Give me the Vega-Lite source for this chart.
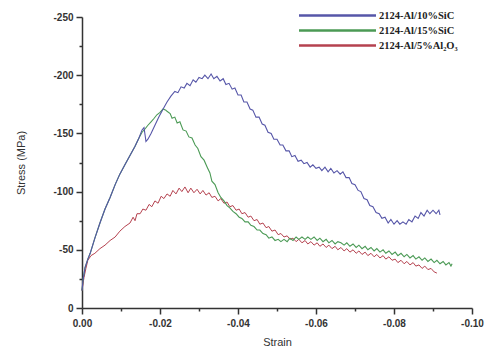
{
  "$schema": "https://vega.github.io/schema/vega-lite/v6.json",
  "autosize": "none",
  "padding": {"left": 82, "top": 17, "right": 16, "bottom": 45},
  "width": 390,
  "height": 291,
  "background": "white",
  "config": {"view": {"stroke": null}},
  "datasets": {
    "sic10": [
      {"strain":0,"stress":-15},{"strain":-0.0003,"stress":-25},{"strain":-0.0008,"stress":-35},{"strain":-0.0015,"stress":-42},{"strain":-0.0021,"stress":-47},{"strain":-0.0033,"stress":-60},{"strain":-0.0046,"stress":-73},{"strain":-0.0059,"stress":-85},{"strain":-0.0072,"stress":-95},{"strain":-0.0085,"stress":-106},{"strain":-0.0097,"stress":-115},{"strain":-0.011,"stress":-123},{"strain":-0.0123,"stress":-131},{"strain":-0.0136,"stress":-139},{"strain":-0.0146,"stress":-146},{"strain":-0.0154,"stress":-153},{"strain":-0.0159,"stress":-155},{"strain":-0.0162,"stress":-148},{"strain":-0.0164,"stress":-143},{"strain":-0.0169,"stress":-145},{"strain":-0.0177,"stress":-150},{"strain":-0.0187,"stress":-157},{"strain":-0.0197,"stress":-164},{"strain":-0.0208,"stress":-171},{"strain":-0.0218,"stress":-177},{"strain":-0.0228,"stress":-182},{"strain":-0.0238,"stress":-186},{"strain":-0.0246,"stress":-185},{"strain":-0.0254,"stress":-190},{"strain":-0.0262,"stress":-189},{"strain":-0.0269,"stress":-193},{"strain":-0.0277,"stress":-191},{"strain":-0.0285,"stress":-196},{"strain":-0.0292,"stress":-194},{"strain":-0.03,"stress":-198},{"strain":-0.0308,"stress":-197},{"strain":-0.0315,"stress":-200},{"strain":-0.0323,"stress":-197},{"strain":-0.0331,"stress":-201},{"strain":-0.0338,"stress":-197},{"strain":-0.0346,"stress":-199},{"strain":-0.0354,"stress":-195},{"strain":-0.0362,"stress":-197},{"strain":-0.0369,"stress":-192},{"strain":-0.0377,"stress":-193},{"strain":-0.0385,"stress":-188},{"strain":-0.0392,"stress":-189},{"strain":-0.04,"stress":-183},{"strain":-0.0408,"stress":-183},{"strain":-0.0415,"stress":-177},{"strain":-0.0423,"stress":-177},{"strain":-0.0431,"stress":-171},{"strain":-0.0438,"stress":-170},{"strain":-0.0446,"stress":-164},{"strain":-0.0454,"stress":-164},{"strain":-0.0462,"stress":-158},{"strain":-0.0469,"stress":-157},{"strain":-0.0477,"stress":-151},{"strain":-0.0485,"stress":-150},{"strain":-0.0492,"stress":-145},{"strain":-0.05,"stress":-145},{"strain":-0.0508,"stress":-140},{"strain":-0.0515,"stress":-140},{"strain":-0.0523,"stress":-135},{"strain":-0.0531,"stress":-135},{"strain":-0.0538,"stress":-130},{"strain":-0.0546,"stress":-131},{"strain":-0.0554,"stress":-126},{"strain":-0.0562,"stress":-127},{"strain":-0.0569,"stress":-124},{"strain":-0.0577,"stress":-125},{"strain":-0.0585,"stress":-121},{"strain":-0.0592,"stress":-123},{"strain":-0.06,"stress":-120},{"strain":-0.0608,"stress":-121},{"strain":-0.0615,"stress":-118},{"strain":-0.0623,"stress":-121},{"strain":-0.0631,"stress":-117},{"strain":-0.0638,"stress":-120},{"strain":-0.0646,"stress":-116},{"strain":-0.0654,"stress":-118},{"strain":-0.0662,"stress":-115},{"strain":-0.0669,"stress":-117},{"strain":-0.0677,"stress":-112},{"strain":-0.0685,"stress":-112},{"strain":-0.0692,"stress":-107},{"strain":-0.07,"stress":-106},{"strain":-0.0708,"stress":-101},{"strain":-0.0715,"stress":-100},{"strain":-0.0723,"stress":-94},{"strain":-0.0731,"stress":-93},{"strain":-0.0738,"stress":-88},{"strain":-0.0746,"stress":-87},{"strain":-0.0754,"stress":-82},{"strain":-0.0762,"stress":-81},{"strain":-0.0769,"stress":-77},{"strain":-0.0777,"stress":-78},{"strain":-0.0785,"stress":-73},{"strain":-0.0792,"stress":-76},{"strain":-0.08,"stress":-72},{"strain":-0.0808,"stress":-75},{"strain":-0.0815,"stress":-72},{"strain":-0.0823,"stress":-74},{"strain":-0.0831,"stress":-72},{"strain":-0.0838,"stress":-76},{"strain":-0.0846,"stress":-74},{"strain":-0.0854,"stress":-79},{"strain":-0.0862,"stress":-77},{"strain":-0.0869,"stress":-82},{"strain":-0.0877,"stress":-79},{"strain":-0.0885,"stress":-84},{"strain":-0.0892,"stress":-81},{"strain":-0.09,"stress":-84},{"strain":-0.0908,"stress":-81},{"strain":-0.0915,"stress":-84},{"strain":-0.0918,"stress":-80}
    ],
    "sic15": [
      {"strain":0,"stress":-15},{"strain":-0.0003,"stress":-25},{"strain":-0.0008,"stress":-35},{"strain":-0.0015,"stress":-42},{"strain":-0.0021,"stress":-47},{"strain":-0.0033,"stress":-60},{"strain":-0.0046,"stress":-73},{"strain":-0.0059,"stress":-85},{"strain":-0.0072,"stress":-95},{"strain":-0.0085,"stress":-106},{"strain":-0.0097,"stress":-115},{"strain":-0.011,"stress":-123},{"strain":-0.0123,"stress":-131},{"strain":-0.0136,"stress":-139},{"strain":-0.0146,"stress":-146},{"strain":-0.0154,"stress":-151},{"strain":-0.0162,"stress":-154},{"strain":-0.0169,"stress":-157},{"strain":-0.0177,"stress":-160},{"strain":-0.0185,"stress":-163},{"strain":-0.0192,"stress":-166},{"strain":-0.02,"stress":-168},{"strain":-0.0208,"stress":-171},{"strain":-0.0215,"stress":-170},{"strain":-0.0218,"stress":-169},{"strain":-0.0226,"stress":-167},{"strain":-0.0231,"stress":-163},{"strain":-0.0238,"stress":-164},{"strain":-0.0244,"stress":-159},{"strain":-0.0251,"stress":-160},{"strain":-0.0259,"stress":-153},{"strain":-0.0267,"stress":-152},{"strain":-0.0274,"stress":-147},{"strain":-0.0282,"stress":-146},{"strain":-0.029,"stress":-140},{"strain":-0.0297,"stress":-137},{"strain":-0.0305,"stress":-130},{"strain":-0.0313,"stress":-127},{"strain":-0.0321,"stress":-121},{"strain":-0.0328,"stress":-116},{"strain":-0.0333,"stress":-109},{"strain":-0.0341,"stress":-106},{"strain":-0.0349,"stress":-99},{"strain":-0.0356,"stress":-95},{"strain":-0.0364,"stress":-92},{"strain":-0.0372,"stress":-88},{"strain":-0.0379,"stress":-86},{"strain":-0.0387,"stress":-83},{"strain":-0.0395,"stress":-81},{"strain":-0.0403,"stress":-78},{"strain":-0.041,"stress":-77},{"strain":-0.0418,"stress":-74},{"strain":-0.0426,"stress":-74},{"strain":-0.0433,"stress":-71},{"strain":-0.0441,"stress":-70},{"strain":-0.0449,"stress":-67},{"strain":-0.0456,"stress":-67},{"strain":-0.0464,"stress":-64},{"strain":-0.0472,"stress":-63},{"strain":-0.0479,"stress":-60},{"strain":-0.0487,"stress":-61},{"strain":-0.0495,"stress":-58},{"strain":-0.0503,"stress":-59},{"strain":-0.051,"stress":-57},{"strain":-0.0518,"stress":-59},{"strain":-0.0526,"stress":-57},{"strain":-0.0533,"stress":-60},{"strain":-0.0541,"stress":-58},{"strain":-0.0549,"stress":-61},{"strain":-0.0556,"stress":-59},{"strain":-0.0564,"stress":-61},{"strain":-0.0572,"stress":-59},{"strain":-0.0579,"stress":-61},{"strain":-0.0587,"stress":-59},{"strain":-0.0595,"stress":-61},{"strain":-0.0603,"stress":-58},{"strain":-0.061,"stress":-60},{"strain":-0.0618,"stress":-57},{"strain":-0.0626,"stress":-59},{"strain":-0.0633,"stress":-56},{"strain":-0.0641,"stress":-58},{"strain":-0.0649,"stress":-55},{"strain":-0.0656,"stress":-57},{"strain":-0.0664,"stress":-56},{"strain":-0.0672,"stress":-54},{"strain":-0.0679,"stress":-56},{"strain":-0.0687,"stress":-53},{"strain":-0.0695,"stress":-55},{"strain":-0.0703,"stress":-52},{"strain":-0.071,"stress":-54},{"strain":-0.0718,"stress":-51},{"strain":-0.0726,"stress":-53},{"strain":-0.0733,"stress":-50},{"strain":-0.0741,"stress":-52},{"strain":-0.0749,"stress":-49},{"strain":-0.0756,"stress":-51},{"strain":-0.0764,"stress":-48},{"strain":-0.0772,"stress":-50},{"strain":-0.0779,"stress":-47},{"strain":-0.0787,"stress":-49},{"strain":-0.0795,"stress":-46},{"strain":-0.0803,"stress":-48},{"strain":-0.081,"stress":-45},{"strain":-0.0818,"stress":-47},{"strain":-0.0826,"stress":-44},{"strain":-0.0833,"stress":-46},{"strain":-0.0841,"stress":-43},{"strain":-0.0849,"stress":-45},{"strain":-0.0856,"stress":-42},{"strain":-0.0864,"stress":-44},{"strain":-0.0872,"stress":-41},{"strain":-0.0879,"stress":-43},{"strain":-0.0887,"stress":-40},{"strain":-0.0895,"stress":-42},{"strain":-0.0903,"stress":-39},{"strain":-0.091,"stress":-41},{"strain":-0.0918,"stress":-38},{"strain":-0.0926,"stress":-40},{"strain":-0.0933,"stress":-37},{"strain":-0.0941,"stress":-39},{"strain":-0.0946,"stress":-36},{"strain":-0.0949,"stress":-38}
    ],
    "al2o3": [
      {"strain":0,"stress":-15},{"strain":-0.0005,"stress":-26},{"strain":-0.001,"stress":-34},{"strain":-0.0015,"stress":-41},{"strain":-0.0023,"stress":-45},{"strain":-0.0033,"stress":-47},{"strain":-0.0046,"stress":-51},{"strain":-0.0059,"stress":-54},{"strain":-0.0072,"stress":-58},{"strain":-0.0085,"stress":-61},{"strain":-0.0097,"stress":-66},{"strain":-0.011,"stress":-70},{"strain":-0.0123,"stress":-73},{"strain":-0.0131,"stress":-78},{"strain":-0.0136,"stress":-75},{"strain":-0.0141,"stress":-81},{"strain":-0.0149,"stress":-81},{"strain":-0.0156,"stress":-85},{"strain":-0.0164,"stress":-84},{"strain":-0.0172,"stress":-89},{"strain":-0.0179,"stress":-87},{"strain":-0.0187,"stress":-92},{"strain":-0.0195,"stress":-90},{"strain":-0.0203,"stress":-96},{"strain":-0.021,"stress":-94},{"strain":-0.0218,"stress":-98},{"strain":-0.0226,"stress":-96},{"strain":-0.0233,"stress":-101},{"strain":-0.0241,"stress":-98},{"strain":-0.0249,"stress":-103},{"strain":-0.0256,"stress":-100},{"strain":-0.0264,"stress":-104},{"strain":-0.0272,"stress":-99},{"strain":-0.0279,"stress":-103},{"strain":-0.0287,"stress":-99},{"strain":-0.0295,"stress":-102},{"strain":-0.0303,"stress":-98},{"strain":-0.031,"stress":-101},{"strain":-0.0318,"stress":-97},{"strain":-0.0326,"stress":-99},{"strain":-0.0333,"stress":-95},{"strain":-0.0341,"stress":-96},{"strain":-0.0349,"stress":-92},{"strain":-0.0356,"stress":-94},{"strain":-0.0364,"stress":-90},{"strain":-0.0372,"stress":-91},{"strain":-0.0379,"stress":-87},{"strain":-0.0387,"stress":-88},{"strain":-0.0395,"stress":-84},{"strain":-0.0403,"stress":-85},{"strain":-0.041,"stress":-81},{"strain":-0.0418,"stress":-82},{"strain":-0.0426,"stress":-78},{"strain":-0.0433,"stress":-79},{"strain":-0.0441,"stress":-75},{"strain":-0.0449,"stress":-76},{"strain":-0.0456,"stress":-72},{"strain":-0.0464,"stress":-73},{"strain":-0.0472,"stress":-69},{"strain":-0.0479,"stress":-70},{"strain":-0.0487,"stress":-66},{"strain":-0.0495,"stress":-67},{"strain":-0.0503,"stress":-63},{"strain":-0.051,"stress":-64},{"strain":-0.0518,"stress":-61},{"strain":-0.0526,"stress":-62},{"strain":-0.0533,"stress":-59},{"strain":-0.0541,"stress":-60},{"strain":-0.0549,"stress":-57},{"strain":-0.0556,"stress":-59},{"strain":-0.0564,"stress":-56},{"strain":-0.0572,"stress":-58},{"strain":-0.0579,"stress":-55},{"strain":-0.0587,"stress":-57},{"strain":-0.0595,"stress":-54},{"strain":-0.0603,"stress":-56},{"strain":-0.061,"stress":-53},{"strain":-0.0618,"stress":-55},{"strain":-0.0626,"stress":-52},{"strain":-0.0633,"stress":-54},{"strain":-0.0641,"stress":-51},{"strain":-0.0649,"stress":-53},{"strain":-0.0656,"stress":-50},{"strain":-0.0664,"stress":-52},{"strain":-0.0672,"stress":-49},{"strain":-0.0679,"stress":-51},{"strain":-0.0687,"stress":-48},{"strain":-0.0695,"stress":-50},{"strain":-0.0703,"stress":-47},{"strain":-0.071,"stress":-49},{"strain":-0.0718,"stress":-46},{"strain":-0.0726,"stress":-48},{"strain":-0.0733,"stress":-45},{"strain":-0.0741,"stress":-47},{"strain":-0.0749,"stress":-44},{"strain":-0.0756,"stress":-46},{"strain":-0.0764,"stress":-43},{"strain":-0.0772,"stress":-45},{"strain":-0.0779,"stress":-42},{"strain":-0.0787,"stress":-44},{"strain":-0.0795,"stress":-41},{"strain":-0.0803,"stress":-42},{"strain":-0.081,"stress":-39},{"strain":-0.0818,"stress":-41},{"strain":-0.0826,"stress":-38},{"strain":-0.0833,"stress":-40},{"strain":-0.0841,"stress":-37},{"strain":-0.0849,"stress":-39},{"strain":-0.0856,"stress":-36},{"strain":-0.0864,"stress":-37},{"strain":-0.0872,"stress":-34},{"strain":-0.0879,"stress":-36},{"strain":-0.0887,"stress":-33},{"strain":-0.0895,"stress":-34},{"strain":-0.0903,"stress":-31},{"strain":-0.091,"stress":-30}
    ]
  },
  "encoding": {
    "x": {
      "field": "strain", "type": "quantitative",
      "scale": {"domain": [0, -0.1], "nice": false, "zero": false},
      "axis": {
        "title": "Strain",
        "values": [0, -0.01, -0.02, -0.03, -0.04, -0.05, -0.06, -0.07, -0.08, -0.09, -0.1],
        "labelExpr": "round(abs(datum.value)*100) % 2 == 1 ? '' : replace(format(datum.value, '.2f'), '\u2212', '-')",
        "labelFlush": false,
        "labelOverlap": false,
        "grid": false,
        "domainColor": "#333", "domainWidth": 1.5,
        "tickColor": "#333", "tickWidth": 1.5,
        "tickSize": {"condition": {"test": "round(abs(datum.value)*100) % 2 == 1", "value": 3}, "value": 6},
        "labelFont": "Liberation Sans", "labelFontSize": 10, "labelColor": "#333", "labelFontWeight": "bold", "labelPadding": 4,
        "titleFont": "Liberation Sans", "titleFontSize": 11, "titleFontWeight": "normal", "titleColor": "#333", "titlePadding": 8
      }
    },
    "y": {
      "field": "stress", "type": "quantitative",
      "scale": {"domain": [0, -250], "nice": false, "zero": false},
      "axis": {
        "title": "Stress (MPa)",
        "values": [0, -25, -50, -75, -100, -125, -150, -175, -200, -225, -250],
        "labelExpr": "datum.value % 50 == 0 ? replace(format(datum.value, 'd'), '\u2212', '-') : ''",
        "labelFlush": false,
        "labelOverlap": false,
        "grid": false,
        "domainColor": "#333", "domainWidth": 1.5,
        "tickColor": "#333", "tickWidth": 1.5,
        "tickSize": {"condition": {"test": "datum.value % 50 != 0", "value": 3}, "value": 6},
        "labelFont": "Liberation Sans", "labelFontSize": 10, "labelColor": "#333", "labelFontWeight": "bold", "labelPadding": 3,
        "titleFont": "Liberation Sans", "titleFontSize": 11, "titleFontWeight": "normal", "titleColor": "#333", "titlePadding": 26
      }
    }
  },
  "layer": [
    {
      "data": {"name": "al2o3"},
      "mark": {"type": "line", "strokeWidth": 1, "interpolate": "linear"},
      "encoding": {"color": {"datum": "2124-Al/5%Al₂O₃"}}
    },
    {
      "data": {"name": "sic15"},
      "mark": {"type": "line", "strokeWidth": 1.1},
      "encoding": {"color": {"datum": "2124-Al/15%SiC"}}
    },
    {
      "data": {"name": "sic10"},
      "mark": {"type": "line", "strokeWidth": 1.1},
      "encoding": {
        "color": {
          "datum": "2124-Al/10%SiC",
          "scale": {
            "domain": ["2124-Al/10%SiC", "2124-Al/15%SiC", "2124-Al/5%Al₂O₃"],
            "range": ["#5656a8", "#4b9a55", "#b5424f"]
          },
          "legend": {
            "title": null,
            "orient": "none",
            "legendX": 249,
            "legendY": -8,
            "padding": 0,
            "symbolType": "M-7.7,0H7.7",
            "symbolSize": 100,
            "symbolStrokeWidth": 2.5,
            "labelOffset": 35,
            "rowPadding": 3,
            "labelFont": "Liberation Serif",
            "labelFontSize": 10.5,
            "labelFontWeight": "bold",
            "labelColor": "#222",
            "labelLimit": 200,
            "encode": {
              "symbols": {"update": {"stroke": {"signal": "datum.value === '2124-Al/10%SiC' ? '#4a7bbd' : datum.value === '2124-Al/15%SiC' ? '#3a9c5c' : '#bb3d48'"}}}
            }
          }
        }
      }
    }
  ]
}
